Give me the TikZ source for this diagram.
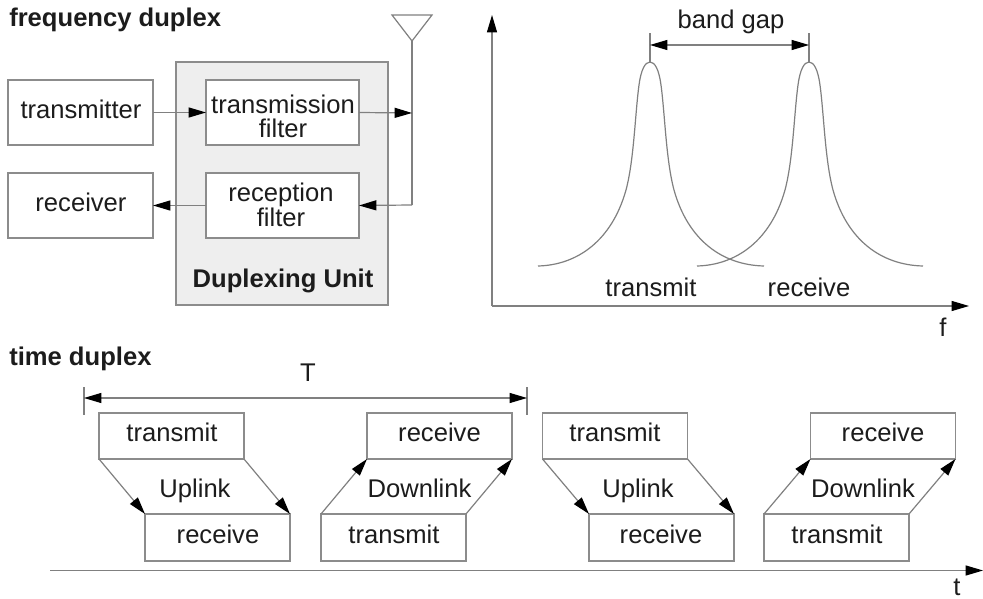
\documentclass[tikz,border=0pt]{standalone}
\usepackage{fontspec}
\setmainfont{Liberation Sans}
\usetikzlibrary{arrows.meta}
\definecolor{ln}{HTML}{808080}
\definecolor{bl}{HTML}{8C8C8C}
\definecolor{tx}{HTML}{1C1C1C}
\tikzset{
  x=0.75pt,y=-0.75pt,
  tipa/.tip={Triangle[length=13pt,width=7.5pt,color=black,fill=black]},
  bx/.style 2 args={draw=bl,line width=1.1pt,fill=white,inner sep=0pt,outer sep=0pt,minimum width=#1*0.75pt,minimum height=#2*0.75pt},
  lnk/.style={draw=ln,line width=0.9pt,-{tipa}},
  dbl/.style={draw=ln,line width=0.9pt,{tipa}-{tipa}},
  thin line/.style={draw=ln,line width=0.9pt},
  txt/.style={anchor=base,inner sep=0pt,text=tx,font=\fontsize{19.2}{18.5}\selectfont,align=center},
  head/.style={anchor=base west,inner sep=0pt,text=tx,font=\fontsize{19.2}{18.5}\selectfont\bfseries},
}
\begin{document}
\begin{tikzpicture}
\useasboundingbox (0,0) rectangle (983,599);
\fill[white] (0,0) rectangle (983,599);
% headings
\node[head] (h1) at (9,27) {frequency duplex};
\node[head] (h2) at (9,365) {time duplex};
% frequency duplex block diagram
\node[bx={212}{243},fill=black!6.5] (unit) at (282,183.5) {};
\node[bx={145}{65}] (tx) at (80.5,112.5) {};
\node[bx={145}{65}] (rx) at (80.5,205.5) {};
\node[bx={153}{65}] (tf) at (282.5,112.5) {};
\node[bx={153}{65}] (rf) at (282.5,205.5) {};
\node[txt] (ttx) at (81,119) {transmitter};
\node[txt] (trx) at (81,212) {receiver};
\node[txt] (ttf1) at (283,113.5) {transmission};
\node[txt] (ttf2) at (283,137.5) {filter};
\node[txt] (trf1) at (281,202) {reception};
\node[txt] (trf2) at (281,227) {filter};
\node[txt,font=\fontsize{19.2}{18.5}\selectfont\bfseries] (tu) at (283,288) {Duplexing Unit};
% antenna
\coordinate (a1) at (392,15);
\coordinate (a2) at (432,15);
\coordinate (a3) at (412,41);
\coordinate (j1) at (412,113);
\coordinate (j2) at (412,205);
\draw[thin line,line join=miter] (a1) -- (a2) -- (a3) -- cycle;
\draw[thin line] (a3) -- (j2);
\draw[lnk] (tx.east) -- (tf.west);
\draw[lnk] (tf.east) -- (j1);
\draw[lnk] (j2) -- (rf.east);
\draw[lnk] (rf.west) -- (rx.east);
% spectrum
\coordinate (o) at (492,306);
\coordinate (ytop) at (492,15);
\coordinate (xend) at (969,306);
\draw[lnk] (o) -- (ytop);
\draw[lnk] (o) -- (xend);
\coordinate (p1) at (650,62);
\coordinate (p2) at (809,62);
\coordinate (d1) at (650,45);
\coordinate (d2) at (809,45);
\draw[thin line] (p1) -- (650,33);
\draw[thin line] (p2) -- (809,33);
\draw[dbl] (d1) -- (d2);
\foreach \c in {650,809}{
\draw[thin line,shift={(\c,0)}] (-112,266)
  .. controls (-72,265) and (-38,240) .. (-24,190)
  .. controls (-16,160) and (-15,115) .. (-11,85)
  .. controls (-9,70) and (-5,62) .. (0,62)
  .. controls (5,62) and (9,70) .. (11,85)
  .. controls (15,115) and (16,160) .. (24,190)
  .. controls (38,240) and (72,265) .. (114,266);
}
\node[txt] (lbg) at (731,29) {band gap};
\node[txt] (ltx) at (651,296.5) {transmit};
\node[txt] (lrx) at (809,296.5) {receive};
\node[txt] (lf) at (943,337) {f};
% time duplex
\coordinate (ta) at (84,398);
\coordinate (tb) at (527,398);
\draw[thin line] (84,387) -- (84,415);
\draw[thin line] (527,387) -- (527,415);
\draw[dbl] (ta) -- (tb);
\node[txt] (lT) at (308,382) {T};
\coordinate (t0) at (50,570.5);
\coordinate (t1) at (983,570.5);
\draw[lnk] (t0) -- (t1);
\node[txt] (lt) at (957,595.5) {t};
% boxes
\node[bx={145}{46}] (a) at (171.5,436) {};
\node[bx={145}{47}] (b) at (217.5,537.5) {};
\node[bx={145}{46}] (c) at (439.5,436) {};
\node[bx={145}{47}] (d) at (393.5,537.5) {};
\node[bx={145}{46}] (e) at (615,436) {};
\node[bx={145}{47}] (f) at (661.5,537.5) {};
\node[bx={145}{46}] (g) at (883,436) {};
\node[bx={145}{47}] (h) at (836.5,537.5) {};
\node[txt] (ta1) at (172,441) {transmit};
\node[txt] (tb1) at (218,543.5) {receive};
\node[txt] (tc1) at (439.5,441) {receive};
\node[txt] (td1) at (394,543.5) {transmit};
\node[txt] (te1) at (615,441) {transmit};
\node[txt] (tf1) at (661,543.5) {receive};
\node[txt] (tg1) at (883,441) {receive};
\node[txt] (th1) at (837,543.5) {transmit};
\node[txt] (ul1) at (195,497) {Uplink};
\node[txt] (dl1) at (419.5,497) {Downlink};
\node[txt] (ul2) at (638,497) {Uplink};
\node[txt] (dl2) at (863,497) {Downlink};
\draw[lnk] (a.south west) -- (b.north west);
\draw[lnk] (a.south east) -- (b.north east);
\draw[lnk] (d.north west) -- (c.south west);
\draw[lnk] (d.north east) -- (c.south east);
\draw[lnk] (e.south west) -- (f.north west);
\draw[lnk] (e.south east) -- (f.north east);
\draw[lnk] (h.north west) -- (g.south west);
\draw[lnk] (h.north east) -- (g.south east);
\end{tikzpicture}
\end{document}
